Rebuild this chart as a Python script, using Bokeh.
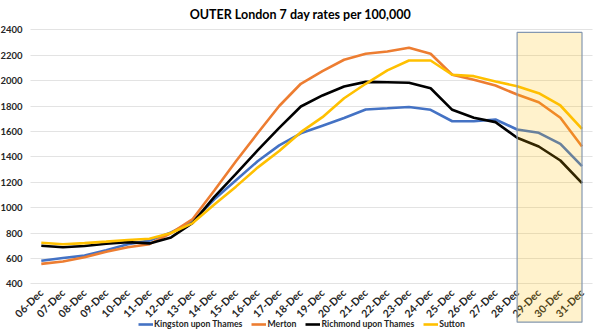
from bokeh.plotting import figure
from bokeh.models import (Range1d, Legend, LegendItem, BoxAnnotation,
                          FixedTicker, Label)
from bokeh.embed import file_html
from bokeh.resources import INLINE
import math

dates = ["06-Dec", "07-Dec", "08-Dec", "09-Dec", "10-Dec", "11-Dec", "12-Dec", "13-Dec",
         "14-Dec", "15-Dec", "16-Dec", "17-Dec", "18-Dec", "19-Dec", "20-Dec", "21-Dec",
         "22-Dec", "23-Dec", "24-Dec", "25-Dec", "26-Dec", "27-Dec", "28-Dec", "29-Dec",
         "30-Dec", "31-Dec"]

kingston = [582, 603, 622, 665, 712, 740, 805, 890, 1065, 1215, 1365, 1490, 1585, 1645,
            1705, 1773, 1782, 1792, 1770, 1680, 1680, 1694, 1615, 1589, 1502, 1326]
merton = [557, 575, 609, 652, 688, 712, 800, 910, 1135, 1365, 1585, 1800, 1975, 2074,
          2164, 2211, 2229, 2258, 2211, 2046, 2006, 1961, 1890, 1830, 1707, 1481]
richmond = [699, 688, 698, 715, 728, 718, 765, 880, 1085, 1265, 1450, 1628, 1796, 1883,
            1953, 1990, 1987, 1983, 1940, 1770, 1707, 1673, 1550, 1481, 1371, 1192]
sutton = [723, 712, 720, 732, 745, 755, 800, 878, 1025, 1165, 1315, 1445, 1594, 1712,
          1861, 1975, 2080, 2158, 2158, 2046, 2035, 1993, 1956, 1901, 1804, 1620]

series_names = ["Kingston upon Thames", "Merton", "Richmond upon Thames", "Sutton"]
series_values = [kingston, merton, richmond, sutton]
series_colors = ["#4472c4", "#ed7d31", "#000000", "#ffc000"]

y_ticks = list(range(400, 2401, 200))
y_axis_min, y_axis_max = 400, 2400
highlight_start, highlight_end = "28-Dec", "31-Dec"
title_text = "OUTER London 7 day rates per 100,000"

FONT = "Lato"

x_pos = list(range(len(dates)))

# The frame covers the whole canvas; the Excel-like plot area is drawn inside it
W, H = 600, 335
px_per_cat = (581.5 - 40.8) / (len(dates) - 1)
x_low = -40.8 / px_per_cat
x_high = (len(dates) - 1) + (W - 581.5) / px_per_cat
px_per_unit = 254.0 / (y_axis_max - y_axis_min)
y_high = y_axis_max + 29.3 / px_per_unit
y_low = y_axis_min - (H - 283.3) / px_per_unit

p = figure(width=W, height=H, x_range=Range1d(x_low, x_high),
           y_range=Range1d(y_low, y_high), output_backend="svg", toolbar_location=None,
           min_border_left=0, min_border_right=0, min_border_top=0, min_border_bottom=0)
p.outline_line_color = None
p.background_fill_color = "white"
p.border_fill_color = "white"

p.add_layout(Label(x=W / 2, y=H - 14, x_units="screen", y_units="screen",
                   text=title_text, text_align="center", text_baseline="middle",
                   text_font=FONT, text_font_size="12.5px", text_font_style="bold",
                   text_color="#000000"))

renderers = []
for name, vals, col in zip(series_names, series_values, series_colors):
    r = p.line(x_pos, vals, line_color=col, line_width=2.6)
    renderers.append((name, r))

# highlight box (forecast period), drawn over the lines
box = BoxAnnotation(left=dates.index(highlight_start), right=dates.index(highlight_end),
                    top=2379, bottom=y_axis_min - 38.4 / px_per_unit,
                    fill_color="#ffc000", fill_alpha=0.2,
                    line_color="#8497b0", line_width=1.2, line_alpha=1.0)
p.add_layout(box)

# y axis at the left edge of the plot area
p.yaxis.fixed_location = -0.5
p.yaxis.ticker = FixedTicker(ticks=y_ticks)
p.yaxis.axis_line_color = None
p.yaxis.major_tick_line_color = None
p.yaxis.minor_tick_line_color = None
p.yaxis.major_tick_out = 0
p.yaxis.major_label_standoff = 8
p.yaxis.major_label_text_font = FONT
p.yaxis.major_label_text_font_size = "9.5px"
p.yaxis.major_label_text_font_style = "bold"
p.yaxis.major_label_text_color = "#262626"

# x axis at value 400
p.xaxis.fixed_location = y_axis_min
p.xaxis.ticker = FixedTicker(ticks=x_pos)
p.xaxis.major_label_overrides = {i: d for i, d in zip(x_pos, dates)}
p.xaxis.axis_line_color = None
p.xaxis.major_tick_line_color = None
p.xaxis.minor_tick_line_color = None
p.xaxis.major_tick_out = 0
p.xaxis.major_label_standoff = 7
p.xaxis.major_label_orientation = math.pi / 4
p.xaxis.major_label_text_font = FONT
p.xaxis.major_label_text_font_size = "10.5px"
p.xaxis.major_label_text_font_style = "bold"
p.xaxis.major_label_text_color = "#262626"

p.xgrid.grid_line_color = None
p.ygrid.ticker = FixedTicker(ticks=y_ticks)
p.ygrid.grid_line_color = "#e3e3e3"
p.ygrid.grid_line_width = 1
p.ygrid.cross_bounds = (-0.5, len(dates) - 0.5)

legend = Legend(items=[LegendItem(label=n, renderers=[r]) for n, r in renderers],
                orientation="horizontal", location=(138, 6),
                glyph_width=15, glyph_height=10, label_height=10, label_standoff=1,
                spacing=9, padding=0, margin=0,
                label_text_font=FONT, label_text_font_size="8.7px",
                label_text_font_style="bold", label_text_color="#262626",
                border_line_color=None, background_fill_alpha=0)
p.add_layout(legend, "center")

open("out.html", "w").write(file_html(p, INLINE))
